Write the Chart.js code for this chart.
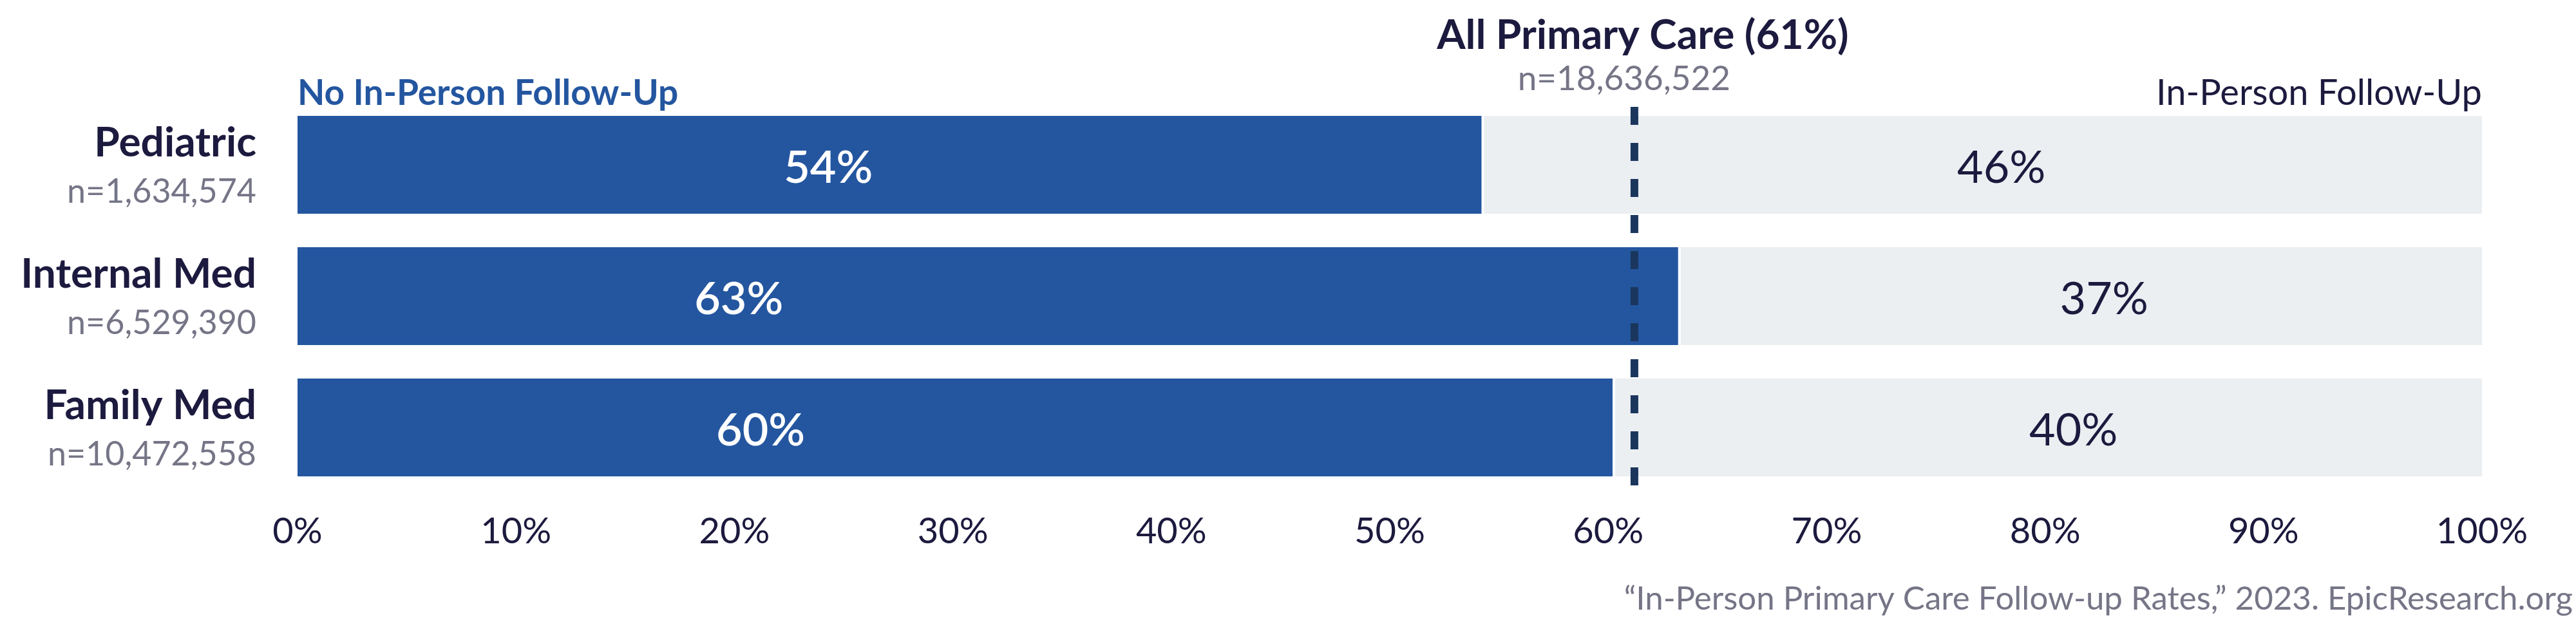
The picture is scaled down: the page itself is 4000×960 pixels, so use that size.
<!DOCTYPE html>
<html>
<head>
<meta charset="utf-8">
<script src="https://cdn.jsdelivr.net/npm/chart.js@4.4.1/dist/chart.umd.min.js"></script>
<style>
html,body{margin:0;padding:0;background:#ffffff;}
#wrap{width:4000px;height:960px;position:relative;}
</style>
</head>
<body>
<div id="wrap"><canvas id="c" width="4000" height="960"></canvas></div>
<script>
// ---------- data ----------
const categories = ['Pediatric', 'Internal Med', 'Family Med'];
const sampleSizes = ['n=1,634,574', 'n=6,529,390', 'n=10,472,558'];
const noFollowUp = [54.2, 63.2, 60.2];
const inPersonFollowUp = [45.8, 36.8, 39.8];
const noFollowUpLabels = ['54%', '63%', '60%'];
const inPersonLabels = ['46%', '37%', '40%'];
const allPrimaryCareRate = 61.2;
const allPrimaryCareTitle = 'All Primary Care (61%)';
const allPrimaryCareN = 'n=18,636,522';
const xTickValues = [0, 10, 20, 30, 40, 50, 60, 70, 80, 90, 100];
const seriesNames = ['No In-Person Follow-Up', 'In-Person Follow-Up'];
const sourceNote = '\u201CIn-Person Primary Care Follow-up Rates,\u201D 2023. EpicResearch.org';

// ---------- layout / style (not data) ----------
const layout = {
  noFollowUpLabelAt: [24.3, 20.2, 21.2],   // label anchors in axis units
  inPersonLabelAt: [78.0, 82.7, 81.3]
};
const BLUE = '#2456a0';
const GREY = '#ebeff2';
const NAVY = '#1c1a3e';
const MUTED = '#757587';
const DASH = '#1b365d';
const FONT = 'Lato, "Noto Sans", sans-serif';

Chart.defaults.font.family = FONT;

const overlay = {
  id: 'overlay',
  afterDatasetsDraw(chart) {
    const ctx = chart.ctx;
    const xs = chart.scales.x, ys = chart.scales.y;
    const area = chart.chartArea;
    ctx.save();

    // dashed reference line
    const lx = xs.getPixelForValue(allPrimaryCareRate);
    ctx.strokeStyle = DASH;
    ctx.lineWidth = 12;
    ctx.setLineDash([28, 28]);
    ctx.beginPath();
    ctx.moveTo(lx, area.top + 12);
    ctx.lineTo(lx, area.bottom - 12);
    ctx.stroke();
    ctx.setLineDash([]);

    // value labels
    ctx.textBaseline = 'alphabetic';
    ctx.textAlign = 'center';
    categories.forEach((c, i) => {
      const y = ys.getPixelForValue(i);
      ctx.fillStyle = '#ffffff';
      ctx.font = '600 70px ' + FONT;
      ctx.fillText(noFollowUpLabels[i], xs.getPixelForValue(layout.noFollowUpLabelAt[i]), y + 28);
      ctx.fillStyle = NAVY;
      ctx.font = '400 70px ' + FONT;
      ctx.fillText(inPersonLabels[i], xs.getPixelForValue(layout.inPersonLabelAt[i]), y + 28);
    });

    // category labels
    ctx.textAlign = 'right';
    categories.forEach((c, i) => {
      const y = ys.getPixelForValue(i);
      ctx.fillStyle = NAVY;
      ctx.font = '700 64px ' + FONT;
      ctx.fillText(c, area.left - 64, y - 13);
      ctx.fillStyle = MUTED;
      ctx.font = '400 52px ' + FONT;
      ctx.fillText(sampleSizes[i], area.left - 64, y + 59);
    });

    // series headers
    ctx.textAlign = 'left';
    ctx.fillStyle = BLUE;
    ctx.font = '700 55px ' + FONT;
    ctx.fillText(seriesNames[0], area.left, 163);
    ctx.textAlign = 'right';
    ctx.fillStyle = NAVY;
    ctx.font = '400 56px ' + FONT;
    ctx.fillText(seriesNames[1], area.right, 163);

    // reference title
    ctx.textAlign = 'center';
    ctx.fillStyle = NAVY;
    ctx.font = '700 64px ' + FONT;
    ctx.fillText(allPrimaryCareTitle, lx + 13, 76);
    ctx.fillStyle = MUTED;
    ctx.font = '400 53px ' + FONT;
    ctx.fillText(allPrimaryCareN, lx - 16, 140);

    // source
    ctx.textAlign = 'right';
    ctx.fillStyle = MUTED;
    ctx.font = '400 51px ' + FONT;
    ctx.fillText(sourceNote, 3995, 947);

    ctx.restore();
  }
};

new Chart(document.getElementById('c').getContext('2d'), {
  type: 'bar',
  data: {
    labels: categories,
    datasets: [
      {
        label: seriesNames[0],
        data: noFollowUp,
        backgroundColor: BLUE,
        borderWidth: 0,
        barPercentage: 0.745,
        categoryPercentage: 1
      },
      {
        label: seriesNames[1],
        data: inPersonFollowUp,
        backgroundColor: GREY,
        borderColor: '#ffffff',
        borderWidth: {left: 4, right: 0, top: 0, bottom: 0},
        borderSkipped: false,
        barPercentage: 0.745,
        categoryPercentage: 1
      }
    ]
  },
  options: {
    indexAxis: 'y',
    responsive: false,
    animation: false,
    events: [],
    layout: {padding: {left: 462, right: 146, top: 154, bottom: 94}},
    plugins: {legend: {display: false}, tooltip: {enabled: false}},
    scales: {
      x: {
        stacked: true,
        min: 0,
        max: 100,
        afterBuildTicks: s => { s.ticks = xTickValues.map(v => ({value: v})); },
        afterFit: s => { s.height = 100; },
        ticks: {
          callback: v => v + '%',
          font: {size: 56, family: FONT},
          color: NAVY,
          padding: 26,
          maxRotation: 0,
          autoSkip: false
        },
        grid: {display: false, drawTicks: false},
        border: {display: false}
      },
      y: {stacked: true, display: false}
    }
  },
  plugins: [overlay]
});
</script>
</body>
</html>
